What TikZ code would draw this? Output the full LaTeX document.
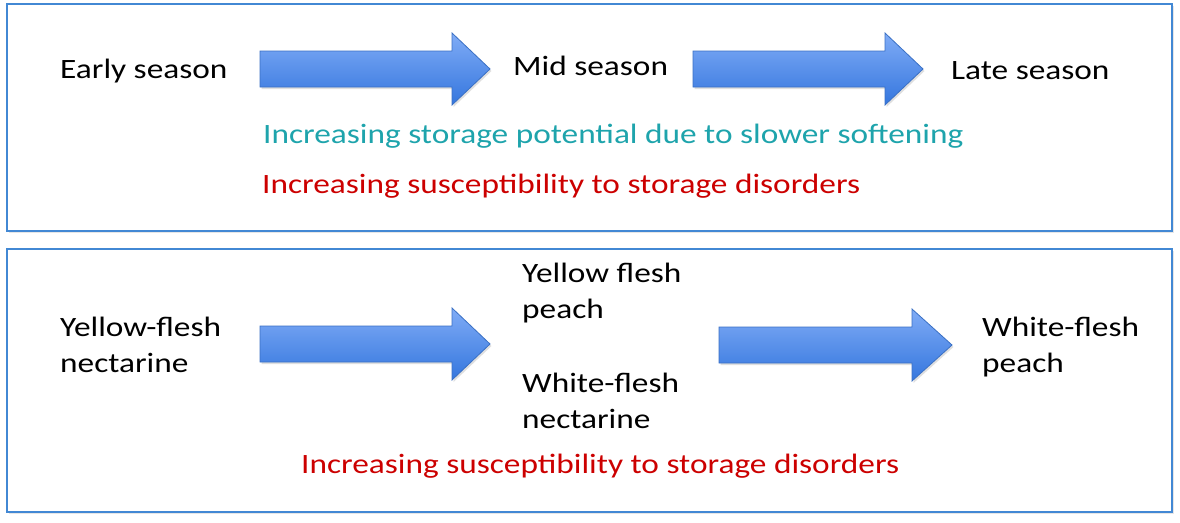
\documentclass[tikz,border=0pt]{standalone}
\usepackage{fontspec}
\setmainfont{Carlito}[FakeStretch=1.19]
\usepackage{xcolor}
\usepackage{tikz}
\usetikzlibrary{positioning, shadows}

\definecolor{boxblue}{RGB}{66,136,212}
\definecolor{arrowtop}{RGB}{128,172,246}
\definecolor{arrowbot}{RGB}{52,118,222}
\definecolor{arrowline}{RGB}{58,112,196}
\definecolor{tealtext}{RGB}{30,164,172}
\definecolor{redtext}{RGB}{204,0,0}

\begin{document}
\begin{tikzpicture}[
    x=1pt, y=-1pt,
    panel/.style={
        draw=boxblue,
        line width=2.5pt,
        fill=white,
        drop shadow={opacity=0.2, shadow xshift=2pt, shadow yshift=-2pt}
    },
    bigarrow/.style={
        draw=arrowline,
        line width=0.8pt,
        top color=arrowtop,
        bottom color=arrowbot,
        drop shadow={opacity=0.25, shadow xshift=1.5pt, shadow yshift=-2pt}
    },
    label/.style={
        inner sep=0pt,
        anchor=base west,
        align=left,
        font=\fontsize{28}{36}\selectfont
    }
]

\useasboundingbox (0,0) rectangle (1180,522);

% panels
\draw[panel] (7,4) rectangle (1172,231);
\draw[panel] (7,249) rectangle (1172,512);

% top panel: season
\node[label] (early) at (60,78) {Early season};
\node[label] (mid) at (513,75) {Mid season};
\node[label] (late) at (951,79) {Late season};

\draw[bigarrow] (260,51) -- ++(192,0) -- ++(0,-18) -- ++(38,36) -- ++(-38,36) -- ++(0,-18) -- ++(-192,0) -- cycle;
\draw[bigarrow] (693,51) -- ++(192,0) -- ++(0,-18) -- ++(38,36) -- ++(-38,36) -- ++(0,-18) -- ++(-192,0) -- cycle;

\node[label, text=tealtext] (potential) at (263,143) {Increasing storage potential due to slower softening};
\node[label, text=redtext] (disorders) at (262,193) {Increasing susceptibility to storage disorders};

% bottom panel: fruit type (base = last line)
\node[label] (ynect) at (60,372) {Yellow-flesh\\nectarine};
\node[label] (ypeach) at (522,318) {Yellow flesh\\peach};
\node[label] (wnect) at (522,428) {White-flesh\\nectarine};
\node[label] (wpeach) at (982,372) {White-flesh\\peach};

\draw[bigarrow] (260,326) -- ++(192,0) -- ++(0,-18) -- ++(38,36) -- ++(-38,36) -- ++(0,-18) -- ++(-192,0) -- cycle;
\draw[bigarrow] (719,327) -- ++(193,0) -- ++(0,-18) -- ++(40,36) -- ++(-40,36) -- ++(0,-18) -- ++(-193,0) -- cycle;

\node[label, text=redtext] (disorders2) at (301,473) {Increasing susceptibility to storage disorders};

\end{tikzpicture}
\end{document}
